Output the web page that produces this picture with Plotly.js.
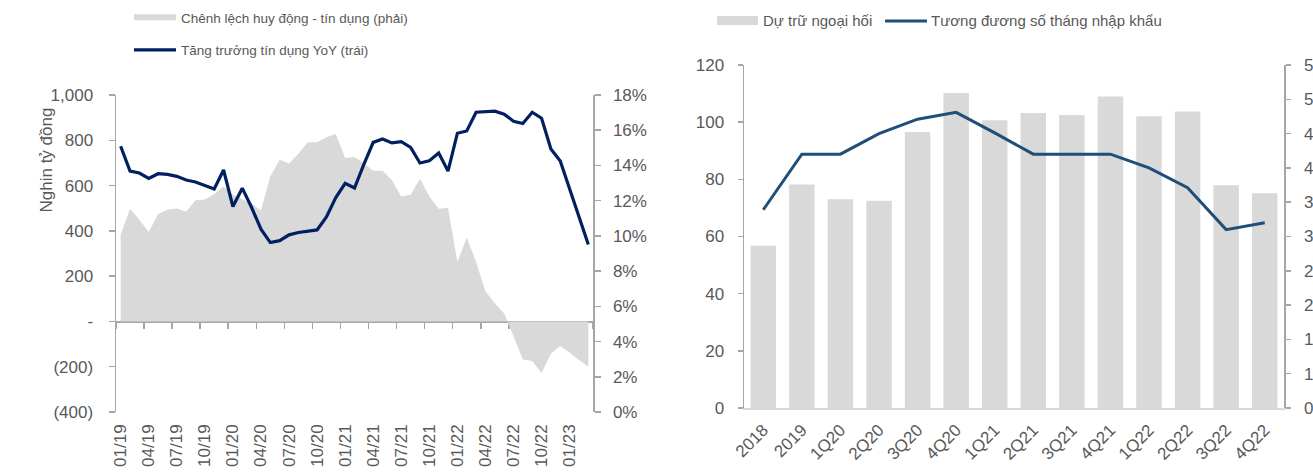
<!DOCTYPE html>
<html>
<head>
<meta charset="utf-8">
<script src="https://cdn.plot.ly/plotly-3.0.1.min.js"></script>
<style>
  html, body { margin: 0; padding: 0; background: #fff; }
  #chart { width: 1313px; height: 475px; }
</style>
</head>
<body>
<div id="chart"></div>
<script>
// left panel: monthly, 01/19 .. 03/23
const months = [
  "01/19", "02/19", "03/19", "04/19", "05/19", "06/19", "07/19", "08/19", "09/19", "10/19", "11/19", "12/19",
  "01/20", "02/20", "03/20", "04/20", "05/20", "06/20", "07/20", "08/20", "09/20", "10/20", "11/20", "12/20",
  "01/21", "02/21", "03/21", "04/21", "05/21", "06/21", "07/21", "08/21", "09/21", "10/21", "11/21", "12/21",
  "01/22", "02/22", "03/22", "04/22", "05/22", "06/22", "07/22", "08/22", "09/22", "10/22", "11/22", "12/22",
  "01/23", "02/23", "03/23",
];
const monthTicks = [
  "01/19", "04/19", "07/19", "10/19", "01/20", "04/20", "07/20", "10/20", "01/21",
  "04/21", "07/21", "10/21", "01/22", "04/22", "07/22", "10/22", "01/23",
];

// Chênh lệch huy động - tín dụng (nghìn tỷ đồng)
const gapBn = [
  383, 498, 449, 395, 474, 493, 499, 486, 535, 538, 563, 596,
  560, 540, 520, 490, 641, 714, 697, 741, 791, 791, 813, 828,
  722, 726, 697, 666, 666, 623, 552, 560, 630, 552, 498, 502,
  262, 371, 262, 133, 80, 35, -65, -168, -175, -229, -142, -108,
  -138, -170, -200,
];

// Tăng trưởng tín dụng YoY (%)
const creditYoY = [
  15.09, 13.68, 13.57, 13.26, 13.53, 13.49, 13.38, 13.17, 13.06, 12.87, 12.66, 13.74,
  11.67, 12.71, 11.61, 10.38, 9.62, 9.73, 10.06, 10.19, 10.25, 10.34, 11.08, 12.18,
  12.98, 12.72, 14.06, 15.31, 15.50, 15.28, 15.35, 15.03, 14.14, 14.27, 14.71, 13.68,
  15.83, 15.96, 17.02, 17.04, 17.08, 16.91, 16.51, 16.38, 17.02, 16.68, 14.93, 14.25,
  12.66, 11.04, 9.51,
];

const leftTickVals = [-400, -200, 0, 200, 400, 600, 800, 1000];
const leftTickText = ["(400)", "(200)", "-", "200", "400", "600", "800", "1,000"];

// right panel: quarterly
const quarters = [
  "2018", "2019", "1Q20", "2Q20", "3Q20", "4Q20", "1Q21",
  "2Q21", "3Q21", "4Q21", "1Q22", "2Q22", "3Q22", "4Q22",
];
const fxReserves = [56.8, 78.2, 73.0, 72.5, 96.6, 110.2, 100.7, 103.2, 102.5, 109.0, 102.1, 103.7, 77.9, 75.1];
const importMonths = [2.89, 3.70, 3.70, 4.00, 4.21, 4.31, 4.01, 3.70, 3.70, 3.70, 3.50, 3.21, 2.60, 2.70];

const monthTickVals = [0, 0.5, 1, 1.5, 2, 2.5, 3, 3.5, 4, 4.5, 5];
const monthTickText = ["0", "1", "1", "2", "2", "3", "3", "4", "4", "5", "5"];

const W = 1313, H = 475;
const px = x => x / W;
const py = y => 1 - y / H;

const GREY_FILL = "#d9d9d9";
const AXIS_GREY = "#a6a6a6";
const TEXT_GREY = "#595959";
const NAVY = "#002060";
const BLUE = "#1f4e79";
const FONT = "Liberation Sans, Arial, sans-serif";
const tickFont = { family: FONT, size: 17, color: TEXT_GREY };

// y=0 of the left axis, as a paper fraction (x axis line crosses there)
const leftDom = [py(412), py(95)];
const zeroPos = leftDom[0] + (0 - (-400)) / 1400 * (leftDom[1] - leftDom[0]);

const yAxisBase = {
  ticks: "outside", ticklen: 6, tickwidth: 1.5, tickcolor: AXIS_GREY,
  showline: true, linecolor: AXIS_GREY, linewidth: 1.5,
  showgrid: false, zeroline: false, tickfont: tickFont,
};

const traces = [
  {
    x: months, y: gapBn,
    name: "Chênh lệch huy động - tín dụng (phải)",
    type: "scatter", mode: "none",
    fill: "tozeroy", fillcolor: GREY_FILL,
    xaxis: "x", yaxis: "y", legendgroup: "a",
  },
  {
    x: months, y: creditYoY,
    name: "Tăng trưởng tín dụng YoY (trái)",
    type: "scatter", mode: "lines",
    line: { color: NAVY, width: 3.2 },
    xaxis: "x2", yaxis: "y2", legendgroup: "b",
  },
  {
    x: quarters, y: fxReserves,
    name: "Dự trữ ngoại hối",
    type: "bar", marker: { color: GREY_FILL },
    xaxis: "x3", yaxis: "y3", showlegend: false,
  },
  {
    x: quarters, y: importMonths,
    name: "Tương đương số tháng nhập khẩu",
    type: "scatter", mode: "lines",
    line: { color: BLUE, width: 3 },
    xaxis: "x3", yaxis: "y4", showlegend: false,
  },
];

const layout = {
  width: W, height: H,
  margin: { l: 0, r: 0, t: 0, b: 0 },
  paper_bgcolor: "white", plot_bgcolor: "white",
  font: { family: FONT, color: TEXT_GREY },
  bargap: 0.34,
  showlegend: true,
  legend: {
    x: px(129), y: py(2), xanchor: "left", yanchor: "top",
    orientation: "v", tracegroupgap: 12, itemwidth: 42,
    font: { family: FONT, size: 13.5, color: TEXT_GREY },
    bgcolor: "rgba(0,0,0,0)",
  },

  // left panel
  xaxis: {
    domain: [px(116), px(593)], anchor: "y",
    type: "category", range: [-0.5, 50.5],
    tickmode: "array", tickvals: monthTicks, tickangle: -90,
    ticks: "", showline: false, showgrid: false, zeroline: false,
    tickfont: tickFont, ticklabelstandoff: 8,
  },
  xaxis2: {
    overlaying: "x", anchor: "free", position: zeroPos,
    type: "category", range: [-0.5, 50.5],
    tickmode: "linear", tick0: 0, dtick: 3, tickson: "boundaries",
    ticks: "outside", ticklen: 6, tickwidth: 1.5, tickcolor: AXIS_GREY,
    showline: true, linecolor: AXIS_GREY, linewidth: 1.5,
    showticklabels: false, showgrid: false, zeroline: false,
    layer: "below traces",
  },
  yaxis: Object.assign({}, yAxisBase, {
    domain: leftDom, anchor: "x",
    range: [-400, 1000], tickmode: "array",
    tickvals: leftTickVals, ticktext: leftTickText,
    ticklabelstandoff: 12,
  }),
  yaxis2: Object.assign({}, yAxisBase, {
    overlaying: "y", side: "right", anchor: "x",
    range: [0, 18], tickmode: "linear", tick0: 0, dtick: 2, ticksuffix: "%",
    ticklabelstandoff: 9,
  }),

  // right panel
  xaxis3: {
    domain: [px(744), px(1284)], anchor: "y3",
    type: "category", tickangle: -45,
    ticks: "", showline: true, linecolor: GREY_FILL, linewidth: 1.5,
    showgrid: false, zeroline: false,
    tickfont: tickFont, ticklabelstandoff: 4,
  },
  yaxis3: Object.assign({}, yAxisBase, {
    domain: [py(408), py(65)], anchor: "x3",
    range: [0, 120], tickmode: "linear", tick0: 0, dtick: 20, ticklen: 5,
    ticklabelstandoff: 10,
  }),
  yaxis4: Object.assign({}, yAxisBase, {
    overlaying: "y3", side: "right", anchor: "x3",
    range: [0, 5], tickmode: "array",
    tickvals: monthTickVals, ticktext: monthTickText, ticklen: 5,
    ticklabelstandoff: 10,
  }),

  annotations: [
    {
      text: "Nghin tỷ đồng", textangle: -90,
      xref: "paper", yref: "paper", x: px(35), y: py(160), yanchor: "middle",
      showarrow: false, font: { family: FONT, size: 17, color: TEXT_GREY },
    },
    {
      text: "Dự trữ ngoại hối",
      xref: "paper", yref: "paper", x: px(761), y: py(20), xanchor: "left", yanchor: "middle",
      showarrow: false, font: { family: FONT, size: 15, color: TEXT_GREY },
    },
    {
      text: "Tương đương số tháng nhập khẩu",
      xref: "paper", yref: "paper", x: px(929), y: py(20), xanchor: "left", yanchor: "middle",
      showarrow: false, font: { family: FONT, size: 15, color: TEXT_GREY },
    },
  ],
  // right panel legend keys
  shapes: [
    {
      type: "rect", xref: "paper", yref: "paper",
      x0: px(717), x1: px(758), y0: py(25), y1: py(16),
      fillcolor: GREY_FILL, line: { width: 0 },
    },
    {
      type: "line", xref: "paper", yref: "paper",
      x0: px(885), x1: px(927), y0: py(21), y1: py(21),
      line: { color: BLUE, width: 3 },
    },
  ],
};

Plotly.newPlot("chart", traces, layout, { displayModeBar: false, staticPlot: true });
</script>
</body>
</html>
